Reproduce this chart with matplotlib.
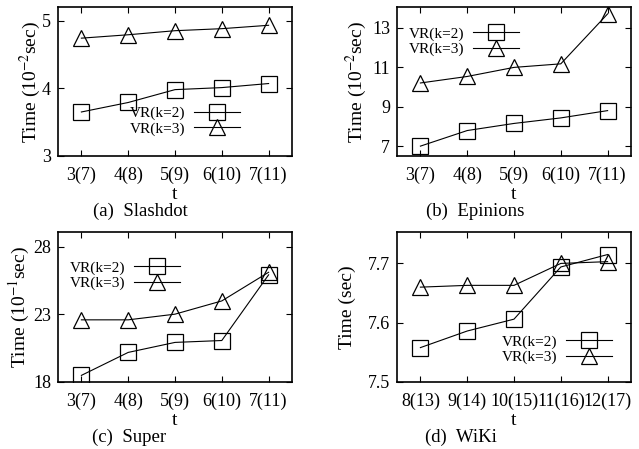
import numpy as np
import matplotlib
matplotlib.use("Agg")
from matplotlib import pyplot as plt

plt.rcParams["font.family"] = ["Liberation Serif", "DejaVu Serif"]
plt.rcParams["mathtext.fontset"] = "stix"

ticks_a = ["3(7)", "4(8)", "5(9)", "6(10)", "7(11)"]
ticks_d = ["8(13)", "9(14)", "10(15)", "11(16)", "12(17)"]

slash_k2 = [3.65, 3.79, 3.98, 4.01, 4.07]
slash_k3 = [4.74, 4.79, 4.85, 4.88, 4.93]

epin_k2 = [7.0, 7.79, 8.15, 8.43, 8.8]
epin_k3 = [10.2, 10.53, 10.99, 11.17, 13.7]

super_k2 = [18.49, 20.19, 20.93, 21.07, 25.93]
super_k3 = [22.6, 22.6, 23.02, 24.0, 26.12]

wiki_k2 = [7.558, 7.586, 7.606, 7.694, 7.715]
wiki_k3 = [7.66, 7.663, 7.663, 7.70, 7.703]

W, H = 639, 449


def panel(fig, rect, labels, k2, k3, ylim, yticks, ylabel, ylab_x,
          caption, cap_x, leg_anchor):
    x0, y0, x1, y1 = rect
    ax = fig.add_axes([x0 / W, 1 - y1 / H, (x1 - x0) / W, (y1 - y0) / H])
    x = np.arange(len(labels))
    ax.plot(x, k2, color="black", lw=0.8, marker="s", ms=11, mfc="none",
            mec="black", mew=0.9, label="VR(k=2)")
    ax.plot(x, k3, color="black", lw=0.8, marker="^", ms=11, mfc="none",
            mec="black", mew=0.9, label="VR(k=3)")
    ax.set_xlim(-0.5, len(labels) - 0.5)
    ax.set_ylim(*ylim)
    ax.set_xticks(x)
    ax.set_xticklabels(labels)
    ax.set_yticks(yticks)
    ax.tick_params(direction="in", top=True, right=True, labelsize=13,
                   length=4, width=0.8)
    ax.tick_params(axis="x", pad=8)
    ax.tick_params(axis="y", pad=5)
    for s in ax.spines.values():
        s.set_linewidth(1.2)
    ax.set_ylabel(ylabel, fontsize=14, va="center")
    ax.yaxis.set_label_coords((ylab_x - x0) / (x1 - x0), 0.5)
    ax.set_xlabel("t", fontsize=14, labelpad=1)
    ax.legend(loc="center right", bbox_to_anchor=leg_anchor, frameon=False,
              markerfirst=False, fontsize=11, handlelength=3.0,
              handletextpad=0.6, borderpad=0, borderaxespad=0,
              labelspacing=0.1)
    fig.text(cap_x / W, 1 - (y1 + 55) / H, caption, ha="center",
             va="center", fontsize=13.5)
    return ax


fig = plt.figure(figsize=(W / 100, H / 100), dpi=100)

panel(fig, (58, 7, 292, 156), ticks_a, slash_k2, slash_k3, (3, 5.2), [3, 4, 5],
      "Time (10$^{-2}$sec)", 30, "(a)  Slashdot", 140, (0.778, 0.235))
panel(fig, (397, 7, 631, 156), ticks_a, epin_k2, epin_k3, (6.5, 14.05),
      [7, 9, 11, 13], "Time (10$^{-2}$sec)", 356, "(b)  Epinions", 475,
      (0.521, 0.768))
panel(fig, (58, 232, 292, 382), ticks_a, super_k2, super_k3, (18, 29.1),
      [18, 23, 28], "Time (10$^{-1}$sec)", 19, "(c)  Super", 129,
      (0.521, 0.71))
panel(fig, (397, 232, 631, 382), ticks_d, wiki_k2, wiki_k3, (7.5, 7.753),
      [7.5, 7.6, 7.7], "Time (sec)", 347, "(d)  WiKi", 461, (0.919, 0.217))

fig.savefig("out.png", dpi=100)
